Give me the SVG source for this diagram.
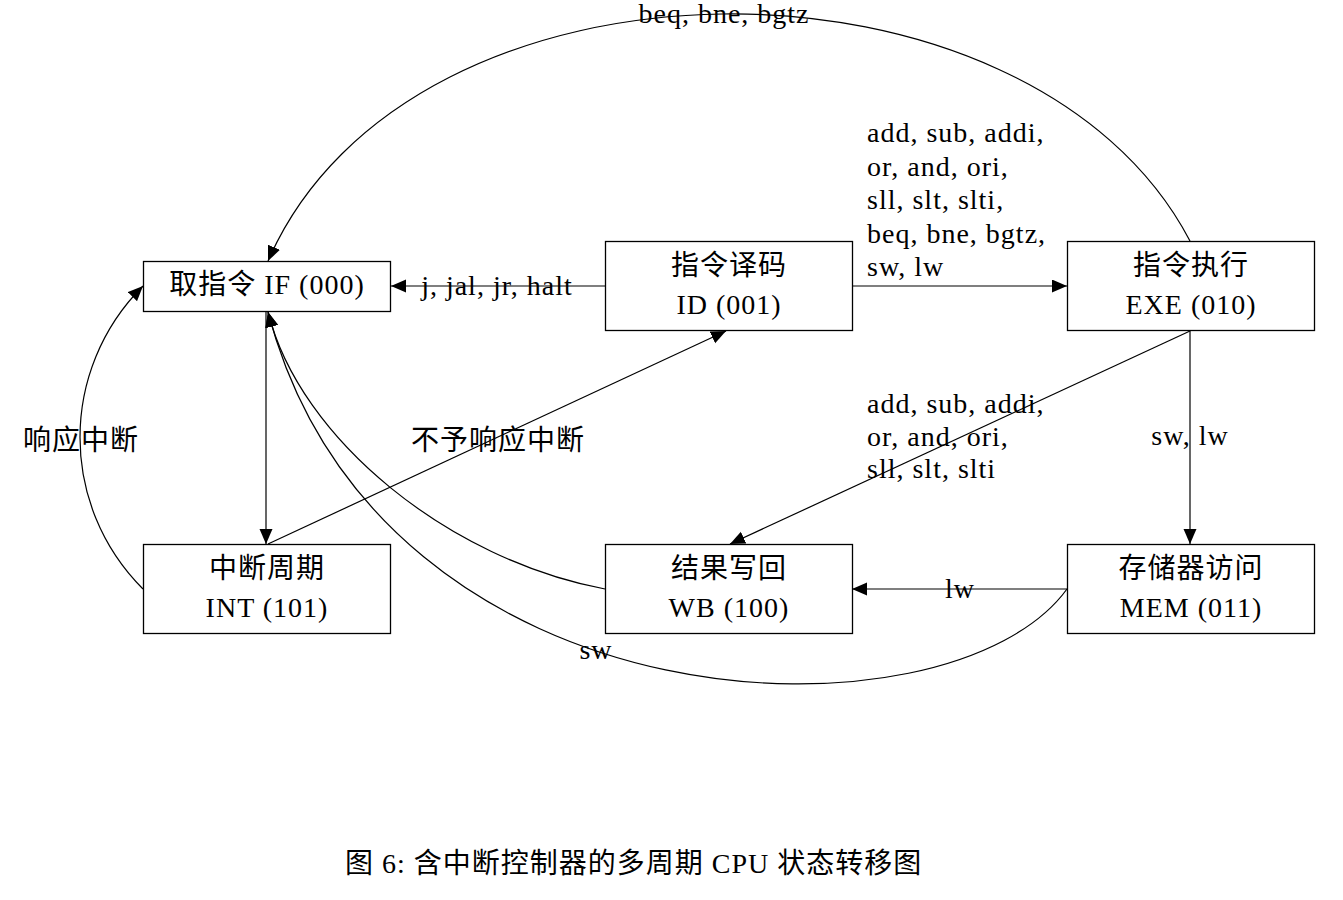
<svg xmlns="http://www.w3.org/2000/svg" width="1343" height="900" viewBox="0 0 1343 900">
  <style>
    text { font-family: "Liberation Serif", "Noto Sans CJK SC", serif; font-size: 28px; fill: #000; letter-spacing: 1px; }
    .c { text-anchor: middle; }
    .box { fill: #fff; stroke: #000; stroke-width: 1.3; }
    .edge { fill: none; stroke: #000; stroke-width: 1.2; }
    .arr { marker-end: url(#head); }
  </style>
  <defs>
    <marker id="head" markerUnits="userSpaceOnUse" markerWidth="16" markerHeight="14" refX="15" refY="6.5" orient="auto">
      <path d="M0,0 L15,6.5 L0,13 z" fill="#000"/>
    </marker>
  </defs>

  <rect width="1343" height="900" fill="#fff"/>

  <!-- state transitions -->
  <g id="connectors">
    <!-- ID -> IF : j, jal, jr, halt -->
    <path class="edge arr" d="M605,286 L391,286"/>
    <!-- ID -> EXE -->
    <path class="edge arr" d="M852,286 L1067,286"/>
    <!-- EXE -> IF : branches -->
    <path class="edge arr" d="M1190,241 C1030,-65 410,-65 268,261"/>
    <!-- EXE -> WB -->
    <path class="edge arr" d="M1190,331 L730,544"/>
    <!-- EXE -> MEM -->
    <path class="edge arr" d="M1190,331 L1190,544"/>
    <!-- MEM -> WB : lw -->
    <path class="edge arr" d="M1067,589 L852,589"/>
    <!-- MEM -> IF : sw -->
    <path class="edge arr" d="M1067,589 C950,750 380,736 268,312"/>
    <!-- WB -> IF -->
    <path class="edge arr" d="M605,589 C450,560 300,440 268,312"/>
    <!-- IF -> INT -->
    <path class="edge arr" d="M266,311 L266,544"/>
    <!-- INT -> IF : interrupt taken -->
    <path class="edge arr" d="M143,589 C59,505 59,370 143,286"/>
    <!-- INT -> ID : interrupt not taken -->
    <path class="edge arr" d="M268,544 L726,331"/>

    <!-- transition labels -->
    <text class="c" x="497" y="295">j, jal, jr, halt</text>
    <text class="c" x="724" y="23">beq, bne, bgtz</text>
    <text x="867" y="142">add, sub, addi,</text>
    <text x="867" y="175.5">or, and, ori,</text>
    <text x="867" y="209">sll, slt, slti,</text>
    <text x="867" y="242.5">beq, bne, bgtz,</text>
    <text x="867" y="276">sw, lw</text>
    <text x="867" y="413">add, sub, addi,</text>
    <text x="867" y="446">or, and, ori,</text>
    <text x="867" y="478">sll, slt, slti</text>
    <text class="c" x="1190" y="445">sw, lw</text>
    <text class="c" x="960" y="598">lw</text>
    <text class="c" x="596" y="659">sw</text>
    <text class="c" x="81" y="450">响应中断</text>
    <text class="c" x="498" y="450">不予响应中断</text>
  </g>

  <!-- states -->
  <g id="node-if">
    <rect class="box" x="143.5" y="261.5" width="247" height="50"/>
    <text class="c" x="267" y="294">取指令 IF (000)</text>
  </g>
  <g id="node-id">
    <rect class="box" x="605.5" y="241.5" width="247" height="89"/>
    <text class="c" x="729" y="275">指令译码</text>
    <text class="c" x="729" y="314">ID (001)</text>
  </g>
  <g id="node-exe">
    <rect class="box" x="1067.5" y="241.5" width="247" height="89"/>
    <text class="c" x="1191" y="275">指令执行</text>
    <text class="c" x="1191" y="314">EXE (010)</text>
  </g>
  <g id="node-int">
    <rect class="box" x="143.5" y="544.5" width="247" height="89"/>
    <text class="c" x="267" y="578">中断周期</text>
    <text class="c" x="267" y="617">INT (101)</text>
  </g>
  <g id="node-wb">
    <rect class="box" x="605.5" y="544.5" width="247" height="89"/>
    <text class="c" x="729" y="578">结果写回</text>
    <text class="c" x="729" y="617">WB (100)</text>
  </g>
  <g id="node-mem">
    <rect class="box" x="1067.5" y="544.5" width="247" height="89"/>
    <text class="c" x="1191" y="578">存储器访问</text>
    <text class="c" x="1191" y="617">MEM (011)</text>
  </g>

  <!-- caption -->
  <text id="caption" x="345" y="873">图 6: 含中断控制器的多周期 CPU 状态转移图</text>
</svg>
